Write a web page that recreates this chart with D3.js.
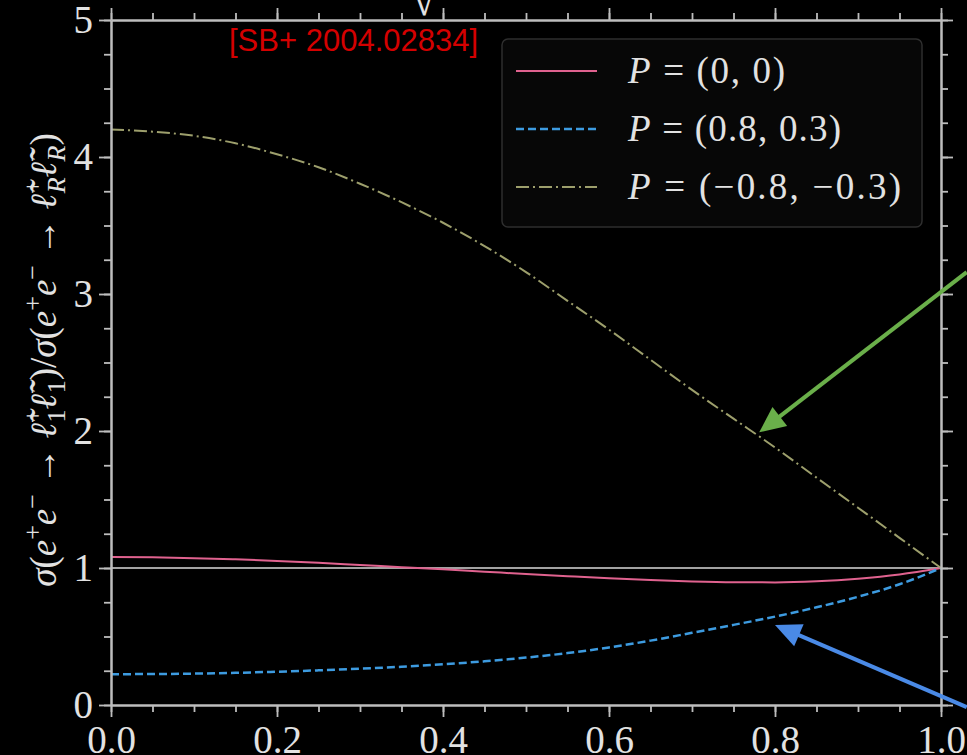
<!DOCTYPE html>
<html><head><meta charset="utf-8">
<script src="https://cdn.jsdelivr.net/npm/d3@7"></script>
<style>html,body{margin:0;background:#000;}svg{display:block}
.serif{font-family:"Liberation Serif","Times New Roman",Times,Tinos,"Noto Serif","DejaVu Serif",FreeSerif,serif;}
</style>
</head><body>
<svg id="c" width="967" height="755"></svg>
<script>
// ---------- data ----------
const xGrid = [0,0.05,0.1,0.15,0.2,0.25,0.3,0.35,0.4,0.45,0.5,0.55,0.6,0.65,0.7,0.75,0.8,0.85,0.9,0.95,1.0];
const ratioP00 = [1.08,1.078,1.072,1.063,1.052,1.038,1.022,1.006,0.99,0.973,0.956,0.94,0.925,0.912,0.902,0.896,0.895,0.903,0.922,0.953,1.0];
const ratioP0803 = [0.225,0.226,0.229,0.235,0.243,0.253,0.265,0.279,0.297,0.319,0.346,0.379,0.42,0.47,0.527,0.585,0.645,0.713,0.79,0.881,1.0];
const ratioPm08m03 = [4.20,4.185,4.155,4.10,4.02,3.925,3.805,3.67,3.52,3.35,3.16,2.95,2.74,2.52,2.30,2.09,1.88,1.66,1.44,1.22,1.0];
const legendLabels = ["(0, 0)", "(0.8, 0.3)", "(\u22120.8, \u22120.3)"];
const xTickValues = [0,0.2,0.4,0.6,0.8,1.0];
const xTickLabels = ["0.0","0.2","0.4","0.6","0.8","1.0"];
const yTickValues = [0,1,2,3,4,5];
const yTickLabels = ["0","1","2","3","4","5"];
const xMinor = d3.range(0,21).map(i=>i*0.05);
const yMinor = d3.range(0,21).map(i=>i*0.25);
const refValue = 1;
const citation = "[SB+ 2004.02834]";
const arrowFrom = [[1.031,3.16],[1.031,-0.015]];
const arrowTo = [[0.781,1.99],[0.80,0.584]];

// ---------- styles ----------
const seriesColors = ["#e0628f","#3d9be0","#9d9f6c"];
const seriesDash = [null,"8,4","13,4,2,4"];
const seriesWidth = [2,2.5,2];
const arrowColors = ["#6aaf4a","#4a8ae6"];
const axisColor = "#bdbdbd";
const textColor = "#e2e2e2";
const legendWidths = [157,213,273];

const svg = d3.select("#c");
svg.append("rect").attr("width",967).attr("height",755).attr("fill","#000");

const x = d3.scaleLinear().domain([0,1]).range([111,941]);
const y = d3.scaleLinear().domain([0,5]).range([705,20]);

// partial title glyph at top (cut off)
svg.append("text").attr("x",424).attr("y",15).attr("text-anchor","middle").attr("class","serif")
  .attr("font-size",44).attr("fill",textColor).text("\u221A");

// reference line
svg.append("line").attr("x1",x(0)).attr("x2",x(1)).attr("y1",y(refValue)).attr("y2",y(refValue))
  .attr("stroke","#d8d8d8").attr("stroke-width",1.6);

// series
const series = [ratioP00, ratioP0803, ratioPm08m03];
const line = d3.line().x((d,i)=>x(xGrid[i])).y(d=>y(d)).curve(d3.curveMonotoneX);
series.forEach((s,k)=>{
  svg.append("path").datum(s).attr("d",line).attr("fill","none")
    .attr("stroke",seriesColors[k]).attr("stroke-width",seriesWidth[k])
    .attr("stroke-dasharray",seriesDash[k]);
});

// axes
function styleAxis(g){
  g.attr("font-family",null);
  g.selectAll(".domain").attr("stroke",axisColor).attr("stroke-width",2);
  g.selectAll(".tick line").attr("stroke",axisColor).attr("stroke-width",1.8);
  g.selectAll(".tick text").attr("fill",textColor).attr("class","serif").attr("font-size",39);
}
const gB = svg.append("g").attr("transform",`translate(0,${y(0)})`)
  .call(d3.axisBottom(x).tickValues(xTickValues).tickSize(12).tickSizeOuter(0).tickPadding(8).tickFormat((d,i)=>xTickLabels[i]));
styleAxis(gB);
const gBm = svg.append("g").attr("transform",`translate(0,${y(0)})`)
  .call(d3.axisBottom(x).tickValues(xMinor).tickSize(7).tickSizeOuter(0).tickFormat(""));
styleAxis(gBm);
const gT = svg.append("g").attr("transform",`translate(0,${y(5)})`)
  .call(d3.axisTop(x).tickValues(xTickValues).tickSize(12).tickSizeOuter(0).tickFormat(""));
styleAxis(gT);
const gTm = svg.append("g").attr("transform",`translate(0,${y(5)})`)
  .call(d3.axisTop(x).tickValues(xMinor).tickSize(7).tickSizeOuter(0).tickFormat(""));
styleAxis(gTm);
const gL = svg.append("g").attr("transform",`translate(${x(0)},0)`)
  .call(d3.axisLeft(y).tickValues(yTickValues).tickSize(12).tickSizeOuter(0).tickPadding(6).tickFormat((d,i)=>yTickLabels[i]));
styleAxis(gL);
const gLm = svg.append("g").attr("transform",`translate(${x(0)},0)`)
  .call(d3.axisLeft(y).tickValues(yMinor).tickSize(7).tickSizeOuter(0).tickFormat(""));
styleAxis(gLm);
const gR = svg.append("g").attr("transform",`translate(${x(1)},0)`)
  .call(d3.axisRight(y).tickValues(yTickValues).tickSize(12).tickSizeOuter(0).tickFormat(""));
styleAxis(gR);
const gRm = svg.append("g").attr("transform",`translate(${x(1)},0)`)
  .call(d3.axisRight(y).tickValues(yMinor).tickSize(7).tickSizeOuter(0).tickFormat(""));
styleAxis(gRm);

// citation
svg.append("text").attr("x",229).attr("y",51).style("font-family","'Liberation Sans', Arial, sans-serif")
  .attr("font-size",31).attr("fill","#d40000").text(citation);

// legend
const lg = svg.append("g");
lg.append("rect").attr("x",502).attr("y",39).attr("width",420).attr("height",188).attr("rx",6)
  .attr("fill","#070707").attr("stroke","#2e2e2e").attr("stroke-width",1.5);
legendLabels.forEach((lab,k)=>{
  const cy = 71 + k*58;
  lg.append("line").attr("x1",516).attr("x2",597).attr("y1",cy).attr("y2",cy)
    .attr("stroke",seriesColors[k]).attr("stroke-width",seriesWidth[k]).attr("stroke-dasharray",seriesDash[k]);
  const t = lg.append("text").attr("x",628).attr("y",cy+12).attr("fill",textColor).attr("class","serif")
    .attr("font-size",37).attr("textLength",legendWidths[k]).attr("lengthAdjust","spacing");
  t.append("tspan").attr("font-style","italic").text("P");
  t.append("tspan").text(" = " + lab);
});

// y label
const yl = svg.append("text").attr("transform","translate(56,360) rotate(-90)").attr("text-anchor","middle")
  .attr("fill",textColor).attr("class","serif").attr("font-size",37);
const parts = [
  {t:"σ",it:1},{t:"("},{t:"e",it:1},{t:"+",sup:1},{t:"e",it:1},{t:"\u2212",sup:1},{t:" \u2192 "},
  {t:"\u2113\u0303",it:1},{t:"+",sup:1},{t:"1",sub:1,back:14},{t:"\u2113\u0303",it:1},{t:"\u2212",sup:1},{t:"1",sub:1,back:14},
  {t:")/"},{t:"σ",it:1},{t:"("},{t:"e",it:1},{t:"+",sup:1},{t:"e",it:1},{t:"\u2212",sup:1},{t:" \u2192 "},
  {t:"\u2113\u0303",it:1},{t:"+",sup:1},{t:"R",sub:1,it:1,back:14},{t:"\u2113\u0303",it:1},{t:"\u2212",sup:1},{t:"R",sub:1,it:1,back:14},{t:")"}
];
let cur = 0;
parts.forEach(p=>{
  const target = p.sup ? -15 : (p.sub ? 9 : 0);
  const ts = yl.append("tspan").text(p.t).attr("dy", target-cur);
  cur = target;
  if (p.it) ts.attr("font-style","italic");
  if (p.sup || p.sub) ts.attr("font-size",26);
  if (p.back) ts.attr("dx",-p.back);
});

// arrows (annotations)
arrowFrom.forEach((f,k)=>{
  const x0=x(f[0]), y0=y(f[1]), x1=x(arrowTo[k][0]), y1=y(arrowTo[k][1]);
  const dx=x1-x0, dy=y1-y0, L=Math.hypot(dx,dy), ux=dx/L, uy=dy/L;
  const hl=26, hw=12;
  const bx=x1-ux*hl, by=y1-uy*hl;
  svg.append("line").attr("x1",x0).attr("y1",y0).attr("x2",bx+ux*2).attr("y2",by+uy*2)
    .attr("stroke",arrowColors[k]).attr("stroke-width",4);
  svg.append("path").attr("d",`M${x1},${y1}L${bx-uy*hw},${by+ux*hw}L${bx+uy*hw},${by-ux*hw}Z`)
    .attr("fill",arrowColors[k]);
});
</script>
</body></html>
